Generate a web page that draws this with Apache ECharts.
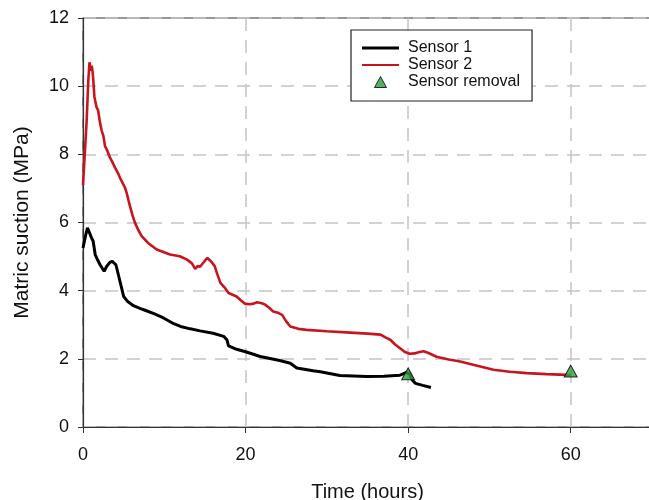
<!DOCTYPE html>
<html>
<head>
<meta charset="utf-8">
<script src="https://cdn.jsdelivr.net/npm/echarts@6/dist/echarts.min.js"></script>
<style>
html,body{margin:0;padding:0;background:#fff;}
#chart{width:649px;height:500px;}
</style>
</head>
<body>
<div id="chart"></div>
<script>
// Time (hours) and matric suction (MPa)
var sensor1Time = [0,0.3,0.55,0.8,1.05,1.25,1.5,1.8,2.1,2.6,2.9,3.3,3.6,4.05,4.5,5.0,5.5,6.2,7.0,7.8,8.8,9.9,11.0,12.0,13.2,14.4,16.0,17.3,17.7,17.9,18.9,20.1,21.8,24.2,25.5,26.3,28.3,29.2,31.6,34.9,37.0,39.0,39.8,40.2,40.5,40.9,41.8,42.8];
var sensor1Value = [5.25,5.6,5.84,5.7,5.55,5.45,5.06,4.9,4.76,4.57,4.71,4.83,4.86,4.76,4.32,3.83,3.68,3.56,3.48,3.41,3.32,3.2,3.05,2.95,2.88,2.82,2.75,2.66,2.56,2.38,2.28,2.2,2.07,1.95,1.87,1.73,1.65,1.62,1.51,1.48,1.49,1.52,1.6,1.55,1.38,1.28,1.22,1.16];

var sensor2Time = [0,0.45,0.65,0.8,0.95,1.07,1.19,1.27,1.4,1.5,1.68,1.85,2.09,2.3,2.5,2.71,3.0,3.32,3.6,3.94,4.3,4.55,4.9,5.17,5.37,5.6,5.78,6.1,6.4,6.8,7.22,8.0,9.07,10.7,11.9,12.8,13.4,13.8,14.1,14.4,14.8,15.3,15.8,16.2,16.5,16.9,17.4,17.9,18.4,18.9,19.4,19.9,20.5,21.0,21.4,22.0,22.4,22.9,23.4,24.0,24.5,25.0,25.5,26.5,27.5,30.0,32.9,35.0,36.6,37.2,37.8,38.4,39.0,39.6,40.2,40.8,41.4,41.9,42.5,43.5,45.0,46.4,48.5,50.5,52.5,54.6,57.0,59.5,60.0];
var sensor2Value = [7.1,8.98,10.16,10.7,10.45,10.6,10.4,10.16,9.7,9.57,9.37,9.3,8.93,8.69,8.55,8.24,8.1,7.9,7.78,7.61,7.45,7.31,7.15,7.02,6.87,6.65,6.48,6.2,5.99,5.78,5.6,5.4,5.21,5.06,5.01,4.91,4.8,4.64,4.72,4.7,4.82,4.96,4.85,4.72,4.5,4.23,4.1,3.93,3.88,3.83,3.72,3.62,3.6,3.62,3.66,3.63,3.59,3.5,3.39,3.35,3.29,3.1,2.95,2.88,2.85,2.81,2.77,2.74,2.71,2.63,2.56,2.42,2.31,2.2,2.15,2.16,2.2,2.22,2.17,2.06,1.98,1.92,1.8,1.68,1.62,1.58,1.55,1.53,1.52];

var removalTime = [40, 60];
var removalValue = [1.56, 1.64];

var xTicks = [0, 20, 40, 60];
var yTicks = [0, 2, 4, 6, 8, 10, 12];

function pairs(xs, ys) { return xs.map(function (x, i) { return [x, ys[i]]; }); }

var chart = echarts.init(document.getElementById('chart'), null, {renderer: 'canvas'});
var FONT = 'Liberation Sans, Arial, sans-serif';
var gridLine = {show: true, lineStyle: {color: '#c4c4c4', width: 1.5, type: [13, 9]}};

chart.setOption({
  animation: false,
  backgroundColor: '#fff',
  textStyle: {fontFamily: FONT},
  grid: {left: 83, top: 18, bottom: 73, right: -3, outerBoundsMode: 'none', containLabel: false,
         show: true, borderColor: '#333', borderWidth: 1.2, backgroundColor: 'transparent'},
  xAxis: {
    type: 'value', min: 0, max: 70, interval: 20,
    name: 'Time (hours)', nameLocation: 'middle', nameGap: 55,
    nameTextStyle: {fontSize: 20, color: '#111', fontFamily: FONT},
    axisLine: {show: true, lineStyle: {color: '#333', width: 1.2}},
    axisTick: {show: true, length: 6, lineStyle: {color: '#333'}},
    axisLabel: {fontSize: 18, color: '#111', margin: 19, showMaxLabel: false, fontFamily: FONT},
    splitLine: gridLine
  },
  yAxis: {
    type: 'value', min: 0, max: 12, interval: 2,
    name: 'Matric suction (MPa)', nameLocation: 'middle', nameGap: 50,
    nameTextStyle: {fontSize: 21, color: '#111', fontFamily: FONT},
    axisLine: {show: true, lineStyle: {color: '#333', width: 1.2}},
    axisTick: {show: true, length: 5, lineStyle: {color: '#333'}},
    axisLabel: {fontSize: 18, color: '#111', margin: 14, fontFamily: FONT},
    splitLine: gridLine
  },
  legend: {
    orient: 'vertical', left: 351, top: 30,
    padding: [10, 12, 11, 11], itemGap: 1, itemWidth: 37, itemHeight: 11,
    symbolKeepAspect: true,
    backgroundColor: '#fff', borderColor: '#222', borderWidth: 1.2,
    textStyle: {fontSize: 16, color: '#111', lineHeight: 16, padding: [0, 0, 0, 4], fontFamily: FONT},
    data: [
      {name: 'Sensor 1', icon: 'path://M0,0 H37 V3 H0 Z', itemStyle: {color: '#000'}},
      {name: 'Sensor 2', icon: 'path://M0,0 H37 V2 H0 Z', itemStyle: {color: '#c8141e'}},
      {name: 'Sensor removal', icon: 'path://M6,0 L12,11 L0,11 Z', itemStyle: {color: '#2e9e3c', borderColor: '#000', borderWidth: 1}}
    ]
  },
  series: [
    {
      name: 'Sensor 1', type: 'line', data: pairs(sensor1Time, sensor1Value),
      symbol: 'none', showSymbol: false, smooth: false,
      lineStyle: {color: '#000', width: 3}, itemStyle: {color: '#000'}, z: 3
    },
    {
      name: 'Sensor 2', type: 'line', data: pairs(sensor2Time, sensor2Value),
      symbol: 'none', showSymbol: false, smooth: false,
      lineStyle: {color: '#c8141e', width: 2.6}, itemStyle: {color: '#c8141e'}, z: 2
    },
    {
      name: 'Sensor removal', type: 'scatter', data: pairs(removalTime, removalValue),
      symbol: 'triangle', symbolSize: [13, 12],
      itemStyle: {color: '#2e9e3c', borderColor: '#000', borderWidth: 1}, z: 5
    }
  ]
});
</script>
</body>
</html>
